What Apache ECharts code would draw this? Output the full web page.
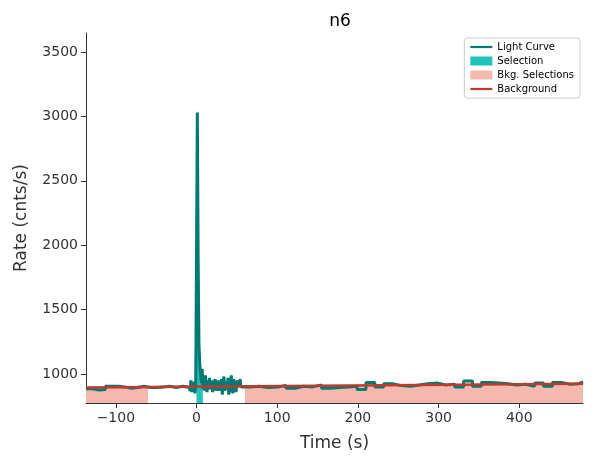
<!DOCTYPE html>
<html><head><meta charset="utf-8">
<script src="https://cdn.jsdelivr.net/npm/echarts@6/dist/echarts.min.js"></script>
<style>body{margin:0}#c{width:592px;height:465px}</style></head>
<body><div id="c"></div>
<script>
// coarse bins before the burst (8 s wide)
let preEdges = [-137, -129, -121, -113, -105, -97, -89, -81, -73, -65, -57, -49, -41, -33, -25, -17, -9];
let preRates = [885, 875, 880, 905, 905, 900, 890, 895, 905, 895, 895, 900, 905, 895, 905, 895];
// fine bins around the burst (1 s wide, starting at -9)
let fineStart = -9;
let fineRates = [900, 870, 950, 860, 930, 880, 940, 850, 900,
  1970, 3030, 1900, 1230, 1080, 1000, 930, 1040, 880, 960, 870, 990, 900, 860, 950, 900, 970, 880,
  910, 950, 860, 930, 900, 960, 870, 940, 890, 950, 870, 930, 900, 960, 840, 950, 980, 870, 940,
  900, 880, 970, 840, 930, 860, 990, 900, 850, 960, 880, 940, 860, 950, 900, 890, 930, 960, 900];
// coarse bins after (11 s wide, starting at 56)
let postStart = 56;
let postWidth = 11;
let postRates = [900, 905, 895, 900, 910, 890, 905, 900, 915, 890, 895, 900, 905, 880, 935, 900, 925,
  910, 905, 915, 925, 930, 915, 920, 900, 945, 905, 935, 930, 925, 915, 920, 905, 930, 905, 935, 920, 925, 940];
let selRange = [0, 8];
let bkgRanges = [[-137, -60], [60, 479]];
let bgLine = [[-137, 895], [479, 925]];

// bins as [left, right, rate]
let bins = [];
for (let i = 0; i < preRates.length; i++) bins.push([preEdges[i], preEdges[i + 1], preRates[i]]);
for (let i = 0; i < fineRates.length; i++) bins.push([fineStart + i, fineStart + i + 1, fineRates[i]]);
for (let i = 0; i < postRates.length; i++) {
  let a = postStart + i * postWidth;
  bins.push([Math.min(a, 479), Math.min(a + postWidth, 479), postRates[i]]);
}
let pts = [];
bins.forEach(b => { pts.push([b[0], b[2]]); pts.push([b[1], b[2]]); });
let sel = [];
bins.filter(b => b[0] >= selRange[0] && b[1] <= selRange[1]).forEach(b => { sel.push([b[0], b[2]]); sel.push([b[1], b[2]]); });

function bgAt(x) { return bgLine[0][1] + (x - bgLine[0][0]) * (bgLine[1][1] - bgLine[0][1]) / (bgLine[1][0] - bgLine[0][0]); }
let bkgSeries = bkgRanges.map(r => ({
  name: "Bkg. Selections", type: "line", symbol: "none", silent: true,
  data: [[r[0], bgAt(r[0])], [r[1], bgAt(r[1])]],
  lineStyle: { width: 1, color: "#f4b8ae" }, itemStyle: { color: "#f4b8ae" },
  areaStyle: { color: "#f4b8ae", opacity: 1 }, z: 1
}));

let chart = echarts.init(document.getElementById("c"));
let font = "DejaVu Sans";
let xt = [-100, 0, 100, 200, 300, 400];
let yt = [1000, 1500, 2000, 2500, 3000, 3500];
chart.setOption({
  textStyle: { fontFamily: font },
  animation: false,
  title: { text: "n6", left: 335, top: 8, textAlign: "center", textStyle: { fontFamily: font, fontSize: 17, fontWeight: "normal", color: "#000" } },
  legend: {
    right: 12, top: 38, orient: "vertical", itemGap: 4, itemWidth: 22, itemHeight: 9,
    borderColor: "#ccc", borderWidth: 1, borderRadius: 3, padding: [4, 6],
    textStyle: { fontSize: 10, color: "#000" },
    data: [
      { name: "Light Curve", icon: "path://M0,0h10v1h-10z" },
      { name: "Selection", icon: "rect" },
      { name: "Bkg. Selections", icon: "rect" },
      { name: "Background", icon: "path://M0,0h10v1h-10z" }
    ]
  },
  grid: { left: 86, right: 9, top: 33, bottom: 62 },
  xAxis: {
    type: "value", min: -137, max: 479,
    name: "Time (s)", nameLocation: "middle", nameGap: 32, nameTextStyle: { fontSize: 17, color: "#333" },
    axisLine: { onZero: false, lineStyle: { color: "#333" } },
    axisTick: { lineStyle: { color: "#333" }, customValues: xt },
    axisLabel: { fontSize: 14, color: "#333", customValues: xt, formatter: v => String(v).replace("-", "\u2212") },
    splitLine: { show: false }
  },
  yAxis: {
    type: "value", min: 775, max: 3647,
    name: "Rate (cnts/s)", nameLocation: "middle", nameGap: 56, nameTextStyle: { fontSize: 17, color: "#333" },
    axisLine: { show: true, onZero: false, lineStyle: { color: "#333" } },
    axisTick: { show: true, lineStyle: { color: "#333" }, customValues: yt },
    axisLabel: { fontSize: 14, color: "#333", customValues: yt, formatter: v => String(v) },
    splitLine: { show: false }
  },
  series: bkgSeries.concat([
    { name: "Selection", type: "line", symbol: "none", data: sel,
      lineStyle: { width: 0 }, itemStyle: { color: "#20c3b8" }, areaStyle: { color: "#20c3b8", opacity: 1 }, z: 2 },
    { name: "Light Curve", type: "line", symbol: "none", data: pts,
      lineStyle: { width: 3, color: "#007a73" }, itemStyle: { color: "#007a73" }, z: 3 },
    { name: "Background", type: "line", symbol: "none", data: bgLine,
      lineStyle: { width: 2.5, color: "#c0392b" }, itemStyle: { color: "#c0392b" }, z: 4 }
  ])
});
</script></body></html>
